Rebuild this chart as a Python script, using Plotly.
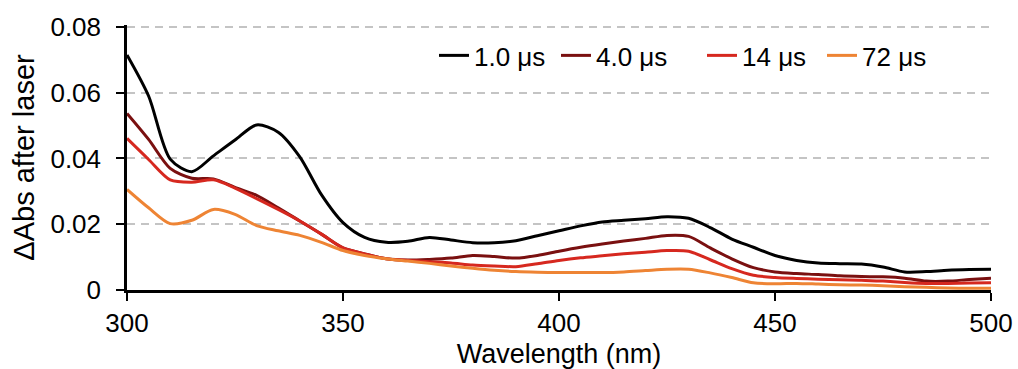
import plotly.graph_objects as go

wavelength = list(range(300, 501, 5))

abs_1us = [0.0715, 0.059, 0.0398, 0.036, 0.0408, 0.0456, 0.0502, 0.048, 0.0405, 0.029,
           0.0205, 0.016, 0.0145, 0.0148, 0.016, 0.0152, 0.0144, 0.0144, 0.015, 0.0165,
           0.018, 0.0195, 0.0207, 0.0212, 0.0217, 0.0223, 0.0218, 0.019, 0.0155, 0.013,
           0.0105, 0.009, 0.0082, 0.008, 0.0079, 0.007, 0.0055, 0.0056, 0.006, 0.0062, 0.0063]
abs_4us = [0.0537, 0.0458, 0.037, 0.034, 0.0338, 0.0312, 0.0288, 0.025, 0.021, 0.017,
           0.0128, 0.011, 0.0095, 0.0091, 0.0093, 0.0097, 0.0105, 0.0102, 0.0097, 0.0105,
           0.0118, 0.013, 0.014, 0.0149, 0.0157, 0.0166, 0.0163, 0.0128, 0.0095, 0.0068,
           0.0055, 0.005, 0.0047, 0.0043, 0.0041, 0.004, 0.0036, 0.0027, 0.0027, 0.0032, 0.0036]
abs_14us = [0.0461, 0.0397, 0.0335, 0.0328, 0.0335, 0.031, 0.0278, 0.0245, 0.021, 0.017,
            0.0128, 0.011, 0.0095, 0.009, 0.0086, 0.0082, 0.0076, 0.0073, 0.0071, 0.008,
            0.009, 0.0098, 0.0104, 0.011, 0.0115, 0.012, 0.0118, 0.0092, 0.0065, 0.0045,
            0.0038, 0.0035, 0.0033, 0.0031, 0.003, 0.0027, 0.0023, 0.002, 0.002, 0.0021, 0.0022]
abs_72us = [0.0306, 0.025, 0.0202, 0.0212, 0.0245, 0.023, 0.0196, 0.018, 0.0166, 0.0145,
            0.012, 0.0105, 0.0095, 0.0088, 0.0081, 0.0073, 0.0066, 0.006, 0.0056, 0.0054,
            0.0053, 0.0053, 0.0053, 0.0055, 0.0059, 0.0063, 0.0063, 0.0052, 0.0038, 0.0022,
            0.0019, 0.002, 0.0018, 0.0016, 0.0015, 0.0013, 0.001, 0.0008, 0.0006, 0.0005, 0.0005]

series_names = ["1.0 μs", "4.0 μs", "14 μs", "72 μs"]
series_values = [abs_1us, abs_4us, abs_14us, abs_72us]
colors = ["#000000", "#7a1010", "#d6281f", "#ee8434"]
legend_ids = ["legend", "legend2", "legend3", "legend4"]
legend_x = [0.3553, 0.4965, 0.6655, 0.8044]

x_ticks = [300, 350, 400, 450, 500]
y_ticks = [0, 0.02, 0.04, 0.06, 0.08]
y_tick_labels = ["0", "0.02", "0.04", "0.06", "0.08"]

fig = go.Figure()
for name, vals, col, lid in zip(series_names, series_values, colors, legend_ids):
    fig.add_trace(go.Scatter(
        x=wavelength, y=vals, name=name, mode="lines", legend=lid,
        line=dict(color=col, width=3, shape="spline", smoothing=0.8),
    ))

font_family = "Liberation Sans, Arial, sans-serif"

legend_common = dict(
    orientation="h", y=0.885, xanchor="left", yanchor="middle",
    font=dict(size=26), itemwidth=30, bgcolor="rgba(0,0,0,0)",
)

fig.update_layout(
    width=1018, height=369,
    margin=dict(l=127, r=27, t=25, b=79),
    paper_bgcolor="white", plot_bgcolor="white",
    font=dict(family=font_family, size=26, color="black"),
    showlegend=True,
    xaxis=dict(
        range=[300, 500], tickvals=x_ticks, ticks="outside", ticklen=8, tickwidth=2,
        tickcolor="black", showline=True, linecolor="black", linewidth=2.5,
        showgrid=False, zeroline=False, automargin=False,
        title=dict(text="Wavelength (nm)", font=dict(size=27), standoff=14),
        tickfont=dict(size=26),
    ),
    yaxis=dict(
        range=[0, 0.0806], tickvals=y_ticks, ticktext=y_tick_labels, ticks="outside",
        ticklen=8, tickwidth=2, tickcolor="black", showline=True, linecolor="black",
        linewidth=2.5, showgrid=True, gridcolor="#c4c4c4", griddash="8px,6px", gridwidth=1.5,
        zeroline=False, ticklabelstandoff=10, automargin=False,
        title=dict(text="ΔAbs after laser", font=dict(size=29), standoff=8),
        tickfont=dict(size=26),
    ),
)
for lid, lx in zip(legend_ids, legend_x):
    fig.update_layout({lid: dict(x=lx, **legend_common)})

fig.write_html("out.html")
